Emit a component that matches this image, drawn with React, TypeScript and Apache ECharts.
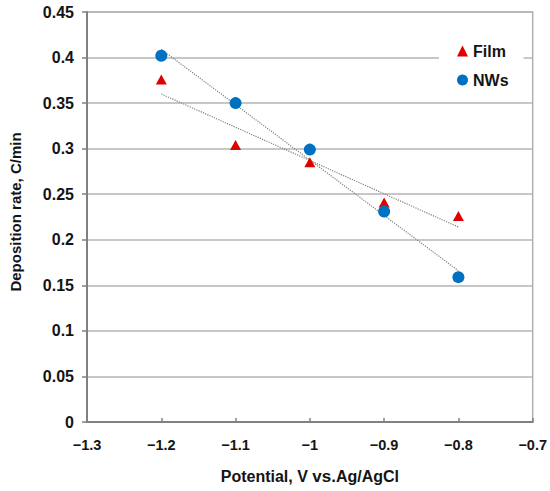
import React, { useEffect, useRef } from "react";
import * as echarts from "echarts";

const xTicks = [-1.3, -1.2, -1.1, -1.0, -0.9, -0.8, -0.7];
const potentials = [-1.2, -1.1, -1.0, -0.9, -0.8];
const filmValues = [0.376, 0.304, 0.285, 0.241, 0.226];
const nwsValues = [0.402, 0.35, 0.299, 0.231, 0.159];
const filmTrend = [
  [-1.2, 0.36],
  [-0.8, 0.214],
];
const nwsTrend = [
  [-1.2, 0.409],
  [-0.8, 0.166],
];

const FONT = "'Liberation Sans', Arial, sans-serif";
const TEXT = "#141414";

export default function App() {
  const ref = useRef<HTMLDivElement>(null);
  useEffect(() => {
    if (!ref.current) return;
    const chart = echarts.init(ref.current, undefined, { renderer: "svg" });
    const fmt = (v: number) => String(Number(v.toFixed(2))).replace("-", "\u2212");
    chart.setOption({
      animation: false,
      backgroundColor: "#fff",
      textStyle: { fontFamily: FONT },
      grid: {
        left: 84,
        right: 10,
        top: 12,
        bottom: 69,
        show: true,
        borderColor: "#b0b0b0",
        borderWidth: 1.5,
        backgroundColor: "transparent",
      },
      legend: {
        data: ["Film", "NWs"],
        orient: "vertical",
        left: 439,
        top: 35,
        backgroundColor: "#fff",
        padding: [8, 15, 8, 18],
        itemGap: 13,
        itemWidth: 11,
        itemHeight: 11,
        textStyle: { fontFamily: FONT, fontWeight: "bold", fontSize: 16, color: TEXT },
      },
      xAxis: {
        type: "value",
        min: xTicks[0],
        max: xTicks[xTicks.length - 1],
        interval: 0.1,
        name: "{a|Potential, V }{b|vs.}{a|Ag/AgCl}",
        nameLocation: "middle",
        nameGap: 46,
        nameTextStyle: {
          rich: {
            a: { fontFamily: FONT, fontWeight: "bold", fontSize: 16, color: TEXT },
            b: { fontFamily: FONT, fontWeight: "bold", fontSize: 17, color: TEXT },
          },
        },
        axisLine: { show: true, lineStyle: { color: "#808080", width: 2 } },
        axisTick: { show: true, inside: true, length: 4, lineStyle: { color: "#808080", width: 1.5 } },
        axisLabel: {
          formatter: fmt,
          margin: 15,
          fontFamily: FONT,
          fontWeight: "bold",
          fontSize: 14.5,
          color: TEXT,
        },
        splitLine: { show: false },
      },
      yAxis: {
        type: "value",
        min: 0,
        max: 0.45,
        interval: 0.05,
        name: "Deposition rate, C/min",
        nameLocation: "middle",
        nameGap: 64,
        nameTextStyle: {
          fontFamily: FONT,
          fontWeight: "bold",
          fontSize: 15,
          color: TEXT,
          padding: [0, 0, 0, 10],
        },
        axisLine: { show: true, lineStyle: { color: "#808080", width: 2 } },
        axisTick: { show: true, inside: false, length: 5, lineStyle: { color: "#808080", width: 1.5 } },
        axisLabel: {
          formatter: fmt,
          margin: 13,
          fontFamily: FONT,
          fontWeight: "bold",
          fontSize: 16,
          color: TEXT,
        },
        splitLine: { show: true, lineStyle: { color: "#b5b5b5", width: 1.5 } },
      },
      series: [
        {
          name: "Film trend",
          type: "line",
          data: filmTrend,
          symbol: "none",
          silent: true,
          lineStyle: { type: "dotted", color: "#808080", width: 1.2 },
          z: 2,
        },
        {
          name: "NWs trend",
          type: "line",
          data: nwsTrend,
          symbol: "none",
          silent: true,
          lineStyle: { type: "dotted", color: "#808080", width: 1.2 },
          z: 2,
        },
        {
          name: "Film",
          type: "scatter",
          data: potentials.map((x, i) => [x, filmValues[i]]),
          symbol: "triangle",
          symbolSize: [11, 10],
          itemStyle: { color: "#e00000", opacity: 1 },
          z: 3,
        },
        {
          name: "NWs",
          type: "scatter",
          data: potentials.map((x, i) => [x, nwsValues[i]]),
          symbol: "circle",
          symbolSize: 12,
          itemStyle: { color: "#0070c0", opacity: 1 },
          z: 4,
        },
      ],
    });
    return () => chart.dispose();
  }, []);
  return (
    <div
      ref={ref}
      style={{ position: "fixed", left: 0, top: 0, width: 550, height: 491 }}
    />
  );
}
